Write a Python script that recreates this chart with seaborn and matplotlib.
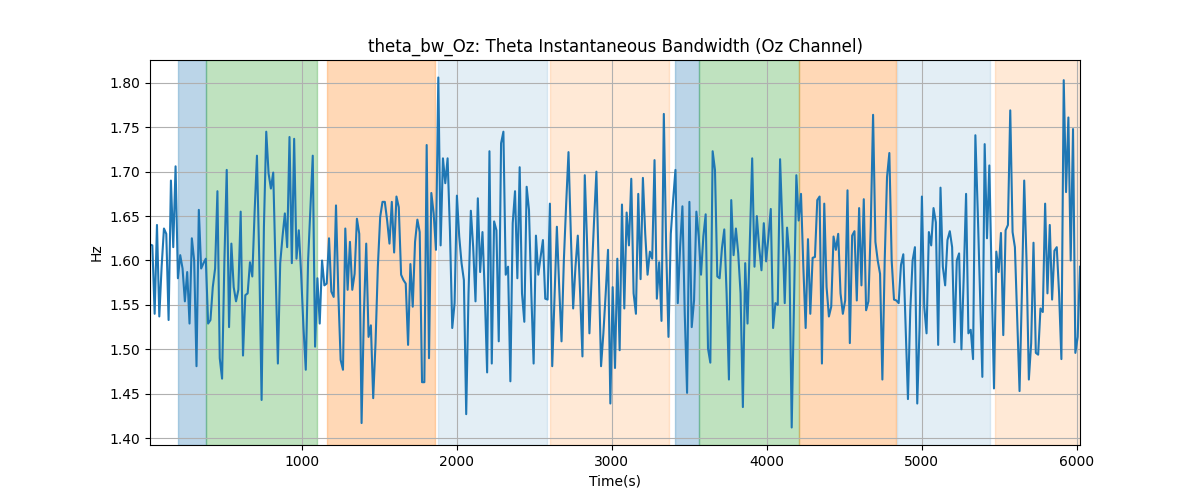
import numpy as np
import matplotlib
matplotlib.use("Agg")
import matplotlib.pyplot as plt
import seaborn as sns

# Theta instantaneous bandwidth (Hz), sampled every 15 s
bandwidth_hz = [
    # 0-50
    1.618, 1.617, 1.540, 1.640, 1.537, 1.593, 1.636, 1.630, 1.533, 1.690,
    1.615, 1.706, 1.580, 1.606, 1.591, 1.554, 1.587, 1.529, 1.625, 1.600,
    1.481, 1.657, 1.591, 1.597, 1.602, 1.529, 1.533, 1.570, 1.591, 1.678,
    1.490, 1.467, 1.600, 1.702, 1.525, 1.619, 1.570, 1.554, 1.567, 1.655,
    1.493, 1.561, 1.563, 1.598, 1.582, 1.655, 1.718, 1.600, 1.443, 1.638,
    1.745,
    # 51-100
    1.698, 1.681, 1.699, 1.593, 1.484, 1.597, 1.627, 1.653, 1.615, 1.739,
    1.597, 1.737, 1.602, 1.634, 1.585, 1.525, 1.477, 1.600, 1.660, 1.718,
    1.503, 1.580, 1.529, 1.600, 1.572, 1.574, 1.625, 1.565, 1.559, 1.662,
    1.563, 1.488, 1.477, 1.636, 1.567, 1.621, 1.567, 1.585, 1.647, 1.630,
    1.417, 1.540, 1.619, 1.514, 1.527, 1.445, 1.507, 1.593, 1.649, 1.666,
    # 101-150
    1.666, 1.645, 1.619, 1.666, 1.609, 1.672, 1.660, 1.584, 1.578, 1.574,
    1.505, 1.596, 1.548, 1.621, 1.646, 1.632, 1.463, 1.463, 1.730, 1.490,
    1.676, 1.653, 1.612, 1.806, 1.617, 1.715, 1.687, 1.715, 1.634, 1.524,
    1.552, 1.673, 1.627, 1.597, 1.578, 1.427, 1.563, 1.656, 1.615, 1.554,
    1.670, 1.587, 1.632, 1.563, 1.474, 1.723, 1.484, 1.644, 1.634, 1.509,
    # 151-199
    1.732, 1.745, 1.584, 1.593, 1.464, 1.642, 1.678, 1.580, 1.705, 1.563,
    1.531, 1.683, 1.657, 1.563, 1.484, 1.628, 1.584, 1.604, 1.623, 1.557,
    1.556, 1.664, 1.481, 1.559, 1.638, 1.570, 1.509, 1.600, 1.664, 1.722,
    1.630, 1.546, 1.593, 1.628, 1.563, 1.492, 1.696, 1.619, 1.518, 1.585,
    1.645, 1.700, 1.593, 1.481, 1.518, 1.563, 1.612, 1.439, 1.570,
    # 200-250
    1.479, 1.602, 1.499, 1.663, 1.546, 1.654, 1.617, 1.692, 1.563, 1.540,
    1.675, 1.579, 1.693, 1.630, 1.584, 1.610, 1.602, 1.713, 1.557, 1.598,
    1.532, 1.765, 1.615, 1.514, 1.630, 1.668, 1.702, 1.552, 1.615, 1.661,
    1.540, 1.451, 1.666, 1.525, 1.555, 1.655, 1.627, 1.584, 1.627, 1.652,
    1.501, 1.485, 1.723, 1.702, 1.582, 1.580, 1.614, 1.635, 1.563, 1.466,
    1.668,
    # 251-300
    1.606, 1.636, 1.608, 1.563, 1.435, 1.597, 1.529, 1.623, 1.715, 1.593,
    1.650, 1.615, 1.589, 1.642, 1.599, 1.627, 1.658, 1.524, 1.552, 1.550,
    1.714, 1.638, 1.552, 1.637, 1.604, 1.412, 1.555, 1.696, 1.645, 1.675,
    1.593, 1.524, 1.624, 1.540, 1.603, 1.604, 1.668, 1.672, 1.484, 1.664,
    1.570, 1.537, 1.548, 1.627, 1.612, 1.630, 1.563, 1.540, 1.555, 1.679,
    # 301-349
    1.507, 1.628, 1.633, 1.555, 1.659, 1.572, 1.669, 1.544, 1.554, 1.638,
    1.764, 1.621, 1.600, 1.585, 1.466, 1.600, 1.694, 1.721, 1.600, 1.556,
    1.555, 1.552, 1.595, 1.607, 1.525, 1.444, 1.544, 1.600, 1.615, 1.439,
    1.525, 1.672, 1.548, 1.518, 1.632, 1.617, 1.659, 1.643, 1.505, 1.682,
    1.593, 1.572, 1.623, 1.633, 1.615, 1.508, 1.600, 1.608, 1.500,
    # 350-400
    1.582, 1.675, 1.518, 1.522, 1.489, 1.741, 1.657, 1.563, 1.469, 1.731,
    1.625, 1.707, 1.582, 1.456, 1.610, 1.587, 1.631, 1.516, 1.634, 1.640,
    1.769, 1.632, 1.615, 1.533, 1.453, 1.563, 1.690, 1.600, 1.466, 1.507,
    1.620, 1.496, 1.494, 1.546, 1.542, 1.664, 1.563, 1.640, 1.556, 1.611,
    1.615, 1.563, 1.489, 1.803, 1.677, 1.761, 1.600, 1.748, 1.496, 1.514,
    1.593,
]

t_start = 20
t_step = 15

# shaded segments (seconds)
seg_start = [198, 379, 1161, 1877, 2602, 3404, 3563, 4210, 4837, 5472]
seg_end = [379, 1095, 1857, 2583, 3370, 3563, 4205, 4832, 5440, 6030]
seg_color = ["tab:blue", "tab:green", "tab:orange", "tab:blue", "tab:orange",
             "tab:blue", "tab:green", "tab:orange", "tab:blue", "tab:orange"]
seg_alpha = [0.3, 0.3, 0.3, 0.12, 0.17, 0.3, 0.3, 0.3, 0.12, 0.17]

y = np.array(bandwidth_hz)
t = t_start + t_step * np.arange(len(y))

fig, ax = plt.subplots(figsize=(12, 5), dpi=100)

for s, e, c, a in zip(seg_start, seg_end, seg_color, seg_alpha):
    ax.axvspan(s, e, color=c, alpha=a)

sns.lineplot(x=t, y=y, ax=ax, color="tab:blue", linewidth=1.5)

ax.set_xlim(t.min(), t.max())
ax.grid(True)
ax.set_title("theta_bw_Oz: Theta Instantaneous Bandwidth (Oz Channel)")
ax.set_xlabel("Time(s)")
ax.set_ylabel("Hz")

fig.savefig("out.png", dpi=100)
